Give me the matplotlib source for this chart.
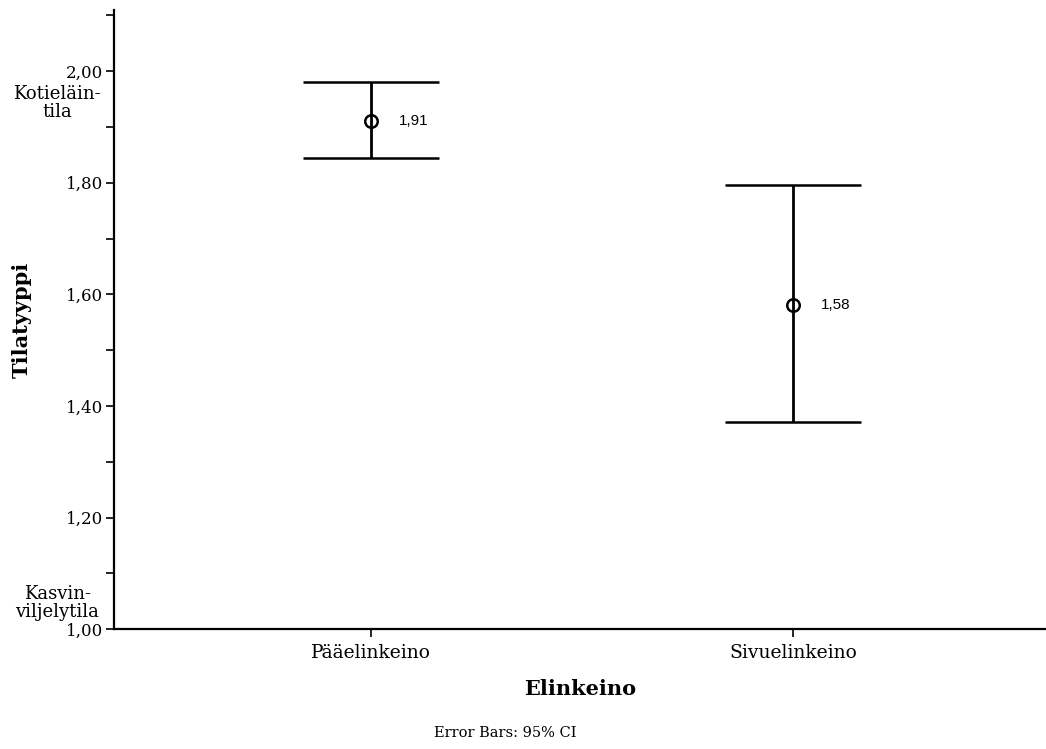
import numpy as np
import matplotlib.pyplot as plt

# Group means of farm type by main/secondary livelihood, with 95% CI
categories = ['Pääelinkeino', 'Sivuelinkeino']
means = np.array([1.91, 1.58])
ci_low = np.array([1.844, 1.371])
ci_high = np.array([1.980, 1.796])
mean_labels = ['1,91', '1,58']

serif = 'DejaVu Serif'

fig = plt.figure(figsize=(10.46, 7.49), dpi=100)
ax = fig.add_axes([0.109, 0.160, 0.891, 0.827])

x = np.arange(len(categories))
yerr = np.vstack([means - ci_low, ci_high - means])
ax.errorbar(x, means, yerr=yerr, fmt='o', color='black', mfc='none',
            mec='black', ms=9, mew=1.8, elinewidth=2.0, capsize=49,
            capthick=2.0)

for xi, m, lab in zip(x, means, mean_labels):
    ax.annotate(lab, (xi, m), xytext=(20, 0), textcoords='offset points',
                va='center', ha='left', fontsize=11,
                family='Liberation Sans')

ax.set_xlim(-0.61, 1.6)
ax.set_ylim(1.0, 2.11)
ax.set_xticks(x)
ax.set_xticklabels(categories, family=serif, fontsize=13.5)
yt = np.arange(1.0, 2.01, 0.2)
ax.set_yticks(yt)
ax.set_yticklabels([f'{v:.2f}'.replace('.', ',') for v in yt],
                   family=serif, fontsize=12)
ax.set_yticks(np.arange(1.1, 2.11, 0.2), minor=True)
ax.tick_params(axis='both', which='both', length=6, width=1.2, direction='out')
ax.tick_params(axis='x', pad=5)
ax.tick_params(axis='y', pad=2)

for side in ['top', 'right']:
    ax.spines[side].set_visible(False)
for side in ['left', 'bottom']:
    ax.spines[side].set_linewidth(1.6)

# End-category names on the y axis
ax.text(-0.061, 1.975, 'Kotieläin-\ntila', transform=ax.get_yaxis_transform(),
        ha='center', va='top', family=serif, fontsize=13, linespacing=1.0)
ax.text(-0.061, 1.015, 'Kasvin-\nviljelytila', transform=ax.get_yaxis_transform(),
        ha='center', va='bottom', family=serif, fontsize=13, linespacing=1.0)

ax.set_ylabel('Tilatyyppi', family=serif, fontsize=15, fontweight='bold')
ax.yaxis.set_label_coords(-0.088, 0.5)
ax.set_xlabel('Elinkeino', family=serif, fontsize=15, fontweight='bold',
              labelpad=12)
fig.text(0.483, 0.012, 'Error Bars: 95% CI', ha='center', va='bottom',
         family=serif, fontsize=10.5)

fig.savefig('out.png', dpi=100)
